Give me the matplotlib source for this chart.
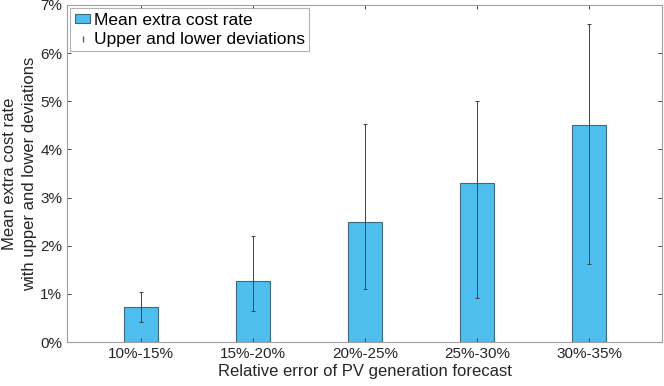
import numpy as np
import matplotlib.pyplot as plt
from matplotlib.ticker import FuncFormatter
from matplotlib.lines import Line2D
from matplotlib.patches import Patch

plt.rcParams['font.family'] = ['Liberation Sans', 'DejaVu Sans']

categories = ["10%-15%", "15%-20%", "20%-25%", "25%-30%", "30%-35%"]
mean_rate = [0.73, 1.26, 2.50, 3.30, 4.50]
upper = [1.03, 2.20, 4.53, 5.00, 6.60]
lower = [0.41, 0.65, 1.10, 0.91, 1.62]

x = np.arange(1, len(categories) + 1)
mean_rate = np.array(mean_rate)
err = [mean_rate - np.array(lower), np.array(upper) - mean_rate]

fig = plt.figure(figsize=(6.64, 3.86), dpi=100)
ax = fig.add_axes([67 / 664, 44 / 386, 595 / 664, 337 / 386])

ax.bar(x, mean_rate, width=0.3, color="#4DBEEE", edgecolor="#3f6a7c", linewidth=0.8)
ax.errorbar(x, mean_rate, yerr=err, fmt="none", ecolor="#404040", elinewidth=0.7,
            capsize=1.5, capthick=0.7)

ax.set_xlim(0.34, 5.65)
ax.set_ylim(0, 7)
ax.set_xticks(x)
ax.set_xticklabels(categories)
ax.set_yticks(np.arange(0, 8, 1))
ax.yaxis.set_major_formatter(FuncFormatter(lambda v, p: f"{v:.0f}%"))
ax.tick_params(direction="in", top=True, right=True, length=3, width=0.6,
               colors="#262626", labelsize=11)
for s in ax.spines.values():
    s.set_color("#a0a0a0")
    s.set_linewidth(0.8)

ax.set_xlabel("Relative error of PV generation forecast", fontsize=12, color="#262626", labelpad=2)
ax.set_ylabel("Mean extra cost rate\nwith upper and lower deviations", fontsize=12,
              color="#262626", labelpad=2, linespacing=1.45)

handles = [Patch(facecolor="#4DBEEE", edgecolor="#3f6a7c", linewidth=0.8),
           Line2D([], [], color="#606060", marker="|", markersize=5, linestyle="none")]
labels = ["Mean extra cost rate", "Upper and lower deviations"]
leg = ax.legend(handles, labels, loc="upper left", fontsize=12.5, frameon=True, fancybox=False,
                edgecolor="#a0a0a0", handlelength=0.9, handleheight=0.45, handletextpad=0.2,
                borderpad=0.25, labelspacing=0.25, borderaxespad=0.2)
leg.get_frame().set_linewidth(0.8)

fig.savefig("out.png", dpi=100)
